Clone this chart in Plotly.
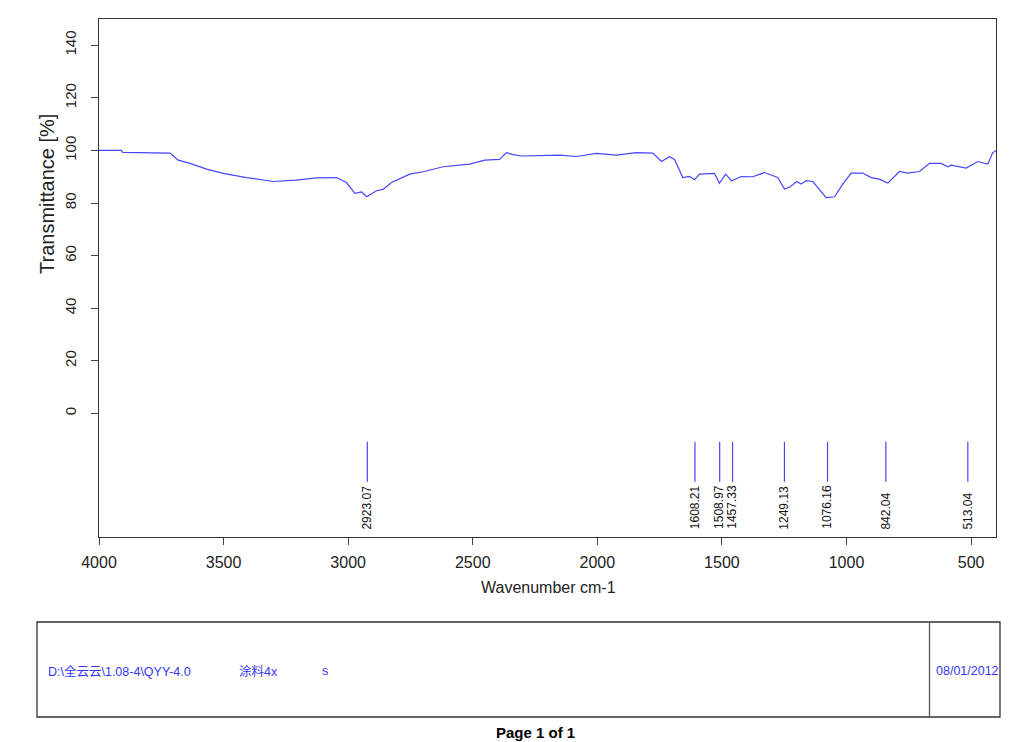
import plotly.graph_objects as go

# IR spectrum (wavenumber cm-1, transmittance %)
wavenumber = [4000, 3910, 3905, 3755, 3715, 3682, 3635, 3568, 3501, 3408, 3301,
              3207, 3127, 3047, 3007, 2973, 2946, 2926, 2886, 2860, 2826, 2753,
              2699, 2619, 2512, 2452, 2392, 2365, 2338, 2305, 2151, 2084, 2004,
              1924, 1844, 1777, 1743, 1710, 1690, 1657, 1630, 1610, 1590, 1530,
              1510, 1485, 1462, 1422, 1376, 1329, 1276, 1249, 1229, 1199, 1182,
              1162, 1135, 1082, 1048, 1015, 981, 935, 901, 868, 834, 787, 754,
              707, 667, 620, 594, 580, 520, 473, 433, 413, 400]
transmittance = [100.0, 100.0, 99.3, 99.2, 99.0, 96.3, 95.1, 92.9, 91.3, 89.7, 88.2,
                 88.7, 89.6, 89.7, 87.8, 83.7, 84.2, 82.4, 84.7, 85.2, 87.8, 91.0,
                 91.9, 93.8, 94.8, 96.3, 96.6, 99.2, 98.4, 97.9, 98.2, 97.7, 98.9,
                 98.2, 99.2, 99.0, 95.8, 97.6, 96.6, 89.7, 90.1, 88.9, 91.0, 91.3,
                 87.5, 91.0, 88.5, 90.1, 90.0, 91.6, 89.7, 85.3, 86.0, 88.2, 87.2,
                 88.5, 88.2, 82.1, 82.4, 87.2, 91.4, 91.4, 89.7, 89.1, 87.6, 92.0, 91.4,
                 92.0, 95.1, 95.1, 93.8, 94.4, 93.3, 95.8, 94.8, 99.2, 99.9]

peaks = [2923.07, 1608.21, 1508.97, 1457.33, 1249.13, 1076.16, 842.04, 513.04]

x_ticks = [4000, 3500, 3000, 2500, 2000, 1500, 1000, 500]
y_ticks = [0, 20, 40, 60, 80, 100, 120, 140]

file_path = "D:\\全云云\\1.08-4\\QYY-4.0"
sample_name = "涂料4x"
sample_flag = "s"
run_date = "08/01/2012"

BLUE = "#4646ff"
TEXT_BLUE = "#3535f5"
FONT = "Liberation Sans, Arial, sans-serif"

# page is drawn inside the body's 8px margin, so work in window pixels minus that
OFF = 8
W, H = 1024 - 2 * OFF, 742 - OFF
L, R, T, B = 99 - OFF, 996 - OFF, 19 - OFF, 537 - OFF


def px(x):
    return (x - OFF - L) / (R - L)


def py(y):
    return (B - (y - OFF)) / (B - T)


fig = go.Figure()
fig.add_trace(go.Scatter(x=wavenumber, y=transmittance, mode="lines",
                         line=dict(color=BLUE, width=1.2), hoverinfo="skip"))

# peak markers
px_lines, py_lines = [], []
for p in peaks:
    px_lines += [p, p, None]
    py_lines += [-10.8, -26.0, None]
fig.add_trace(go.Scatter(x=px_lines, y=py_lines, mode="lines",
                         line=dict(color=BLUE, width=1.2), hoverinfo="skip"))

annotations = []
for p in peaks:
    annotations.append(dict(x=p, y=-44.8, xref="x", yref="y", text=f"{p:.2f}",
                            textangle=-90, showarrow=False, yanchor="bottom",
                            xanchor="center", font=dict(size=12, color="#111")))

# axis titles
annotations.append(dict(x=px(548), y=py(587), xref="paper", yref="paper",
                        text="Wavenumber cm-1", showarrow=False,
                        xanchor="center", yanchor="middle",
                        font=dict(size=16, color="#222")))
annotations.append(dict(x=px(47), y=py(194), xref="paper", yref="paper",
                        text="Transmittance [%]", showarrow=False, textangle=-90,
                        xanchor="center", yanchor="middle",
                        font=dict(size=20, color="#222")))

# info box texts
for txt, x0 in [(file_path, 46), (sample_name, 237), (sample_flag, 320), (run_date, 934)]:
    annotations.append(dict(x=px(x0), y=py(671), xref="paper", yref="paper",
                            text=txt, showarrow=False, xanchor="left", yanchor="middle",
                            font=dict(size=12.5, color=TEXT_BLUE,
                                      family="Liberation Sans, Noto Sans CJK SC, sans-serif")))
annotations.append(dict(x=px(535), y=py(732), xref="paper", yref="paper",
                        text="<b>Page 1 of 1</b>", showarrow=False,
                        xanchor="center", yanchor="middle",
                        font=dict(size=15, color="#000")))

shapes = [
    dict(type="rect", xref="paper", yref="paper", x0=px(37), x1=px(1000),
         y0=py(622), y1=py(717), line=dict(color="#333", width=1.3)),
    dict(type="line", xref="paper", yref="paper", x0=px(929.5), x1=px(929.5),
         y0=py(622), y1=py(717), line=dict(color="#555", width=1.3)),
]

axis_common = dict(showgrid=False, zeroline=False, showline=True, mirror=True,
                   linecolor="#333", linewidth=1, ticks="outside", ticklen=7,
                   tickcolor="#444", tickfont=dict(size=16, color="#222"))

fig.update_layout(
    width=W, height=H,
    margin=dict(l=L, r=W - R, t=T, b=H - B),
    paper_bgcolor="white", plot_bgcolor="white",
    showlegend=False,
    font=dict(family=FONT),
    xaxis=dict(range=[4000, 400], tickvals=x_ticks, ticklabelstandoff=4, **axis_common),
    yaxis=dict(range=[-47, 150], tickvals=y_ticks, tickangle=-90,
               ticklabelstandoff=9, **axis_common),
    annotations=annotations,
    shapes=shapes,
)
fig.update_yaxes(tickfont=dict(size=15, color="#222"))

fig.write_html("out.html")
